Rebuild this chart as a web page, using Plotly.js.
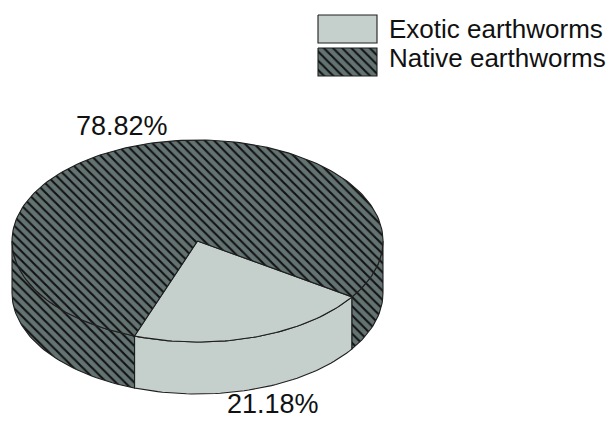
<!DOCTYPE html>
<html>
<head>
<meta charset="utf-8">
<script src="https://cdn.plot.ly/plotly-3.0.1.min.js"></script>
<style>html,body{margin:0;padding:0;background:#fff;}#chart{width:609px;height:421px;}</style>
</head>
<body>
<div id="chart"></div>
<script>
// ---- data ----
var categories = ['Exotic earthworms', 'Native earthworms'];
var values = [21.18, 78.82];

// ---- styles / geometry (not data) ----
var W = 609, H = 421;
var geom = {cx: 197.5, cy: 241, rx: 185.5, ry: 101, depth: 52, start: 33.6};
var fills = [
  {color: '#c5d0cd', pattern: null},
  {color: '#637372', pattern: {shape: '\\', bgcolor: '#637372', fgcolor: '#111111', size: 6.5, solidity: 0.32}}
];
var edge = {color: '#1e1e1e', width: 1.1};
var labelFont = {family: 'Liberation Sans, Arial, sans-serif', size: 27, color: '#111111'};
var legendFont = {family: 'Liberation Sans, Arial, sans-serif', size: 26, color: '#111111'};
var legendBox = {x0: 318, x1: 377, rows: [[15, 43], [48, 76]], textX: 387, textY: [29, 58]};

function rad(d) { return d * Math.PI / 180; }
function nSteps(a, b) { return Math.max(2, Math.ceil(Math.abs(b - a) / 1.5)); }
function arc(a, b, dy, xs, ys) {
  var n = nSteps(a, b);
  for (var i = 0; i <= n; i++) {
    var t = rad(a + (b - a) * i / n);
    xs.push(geom.cx + geom.rx * Math.cos(t));
    ys.push(geom.cy + geom.ry * Math.sin(t) + dy);
  }
}
// front-visible part of [a,b] (screen angles, y down): [0,180] mod 360
function frontRanges(a, b) {
  var out = [];
  for (var k = -1; k <= 2; k++) {
    var s = Math.max(a, k * 360), e = Math.min(b, k * 360 + 180);
    if (e > s) out.push([s, e]);
  }
  return out;
}

var total = values.reduce(function (p, v) { return p + v; }, 0);
var sides = [], tops = [], annotations = [];
var ang = geom.start;
values.forEach(function (v, i) {
  var a = ang, b = ang + v / total * 360;
  ang = b;
  var st = fills[i];
  var base = {type: 'scatter', mode: 'lines', fill: 'toself', fillcolor: st.color,
    line: {color: edge.color, width: edge.width}, hoverinfo: 'skip', showlegend: false};
  if (st.pattern) base.fillpattern = st.pattern;
  // side wall
  var sx = [], sy = [];
  frontRanges(a, b).forEach(function (r, j) {
    if (j > 0) { sx.push(null); sy.push(null); }
    var i0 = sx.length;
    arc(r[0], r[1], 0, sx, sy);
    arc(r[1], r[0], geom.depth, sx, sy);
    sx.push(sx[i0]); sy.push(sy[i0]);
  });
  if (sx.length) sides.push(Object.assign({}, base, {x: sx, y: sy, name: categories[i] + ' side'}));
  // top face
  var tx = [geom.cx], ty = [geom.cy];
  arc(a, b, 0, tx, ty);
  tx.push(geom.cx); ty.push(geom.cy);
  tops.push(Object.assign({}, base, {x: tx, y: ty, name: categories[i]}));
  // percentage label, outside the slice
  var mid = rad((a + b) / 2), kx = 1.3, ky = 1.2;
  var lx = geom.cx + geom.rx * Math.cos(mid) * kx;
  var ly = geom.cy + geom.ry * Math.sin(mid) * ky + (Math.sin(mid) > 0 ? geom.depth : 0);
  ly = Math.min(ly, H - 17);
  annotations.push({x: lx, y: ly, xref: 'x', yref: 'y', showarrow: false,
    text: (v / total * 100).toFixed(2) + '%', font: labelFont, xanchor: 'center', yanchor: 'middle'});
  // legend key
  var r = legendBox.rows[i];
  tops.push(Object.assign({}, base, {
    x: [legendBox.x0, legendBox.x1, legendBox.x1, legendBox.x0, legendBox.x0],
    y: [r[0], r[0], r[1], r[1], r[0]], name: categories[i] + ' key'}));
  annotations.push({x: legendBox.textX, y: legendBox.textY[i], xref: 'x', yref: 'y', showarrow: false,
    text: categories[i], font: legendFont, xanchor: 'left', yanchor: 'middle'});
});

var layout = {
  width: W, height: H, margin: {l: 0, r: 0, t: 0, b: 0},
  paper_bgcolor: '#ffffff', plot_bgcolor: '#ffffff', showlegend: false,
  xaxis: {range: [0, W], visible: false, fixedrange: true},
  yaxis: {range: [H, 0], visible: false, fixedrange: true},
  annotations: annotations
};
Plotly.newPlot('chart', sides.concat(tops), layout, {staticPlot: true, displayModeBar: false});
</script>
</body>
</html>
